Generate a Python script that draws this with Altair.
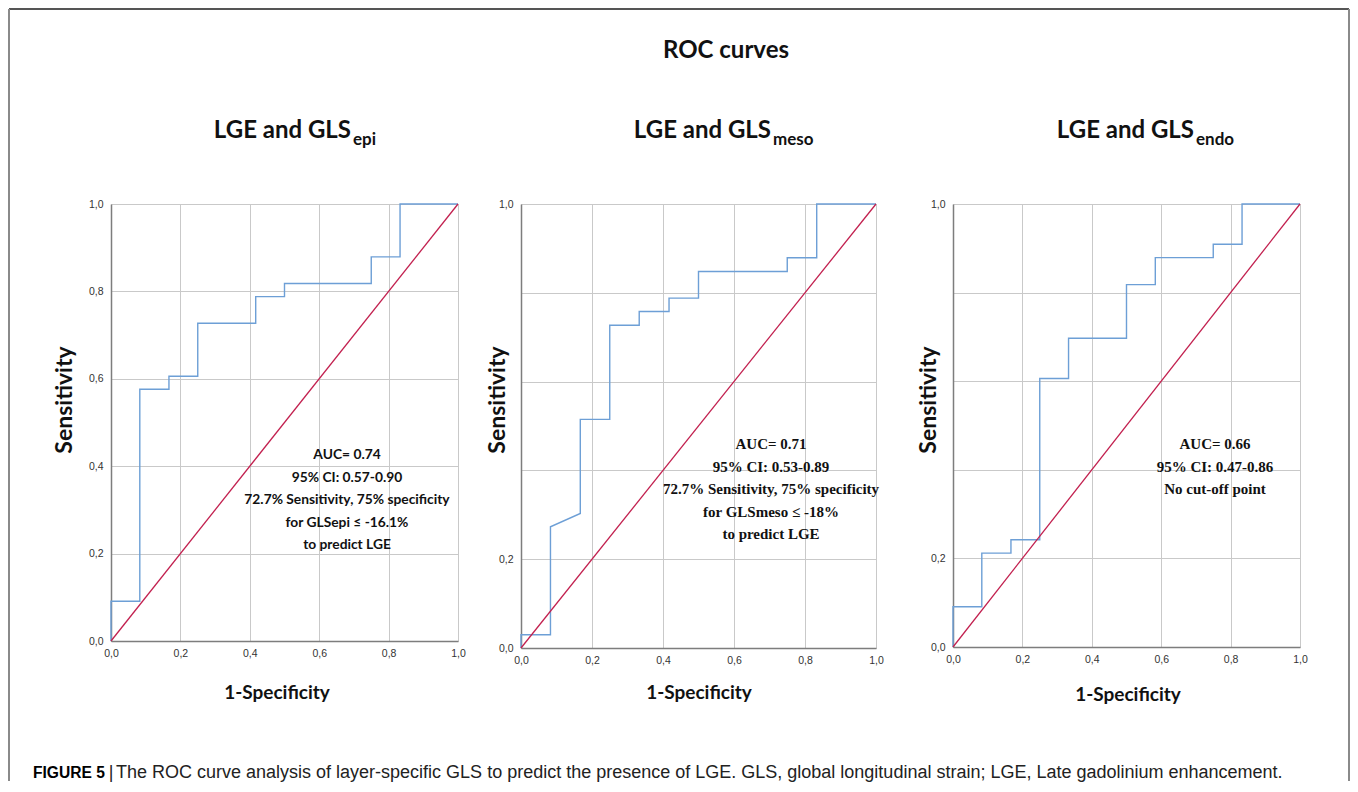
import altair as alt
import pandas as pd

# ---------------- data ----------------
# Panel 1: LGE and GLS epi
fpr_epi = [0, 0, 0.083, 0.083, 0.167, 0.167, 0.25, 0.25, 0.417, 0.417, 0.5, 0.5, 0.75, 0.75, 0.833, 0.833, 1.0]
tpr_epi = [0, 0.091, 0.091, 0.576, 0.576, 0.606, 0.606, 0.727, 0.727, 0.788, 0.788, 0.818, 0.818, 0.879, 0.879, 1.0, 1.0]
# Panel 2: LGE and GLS meso
fpr_meso = [0, 0, 0.083, 0.083, 0.167, 0.167, 0.25, 0.25, 0.333, 0.333, 0.417, 0.417, 0.5, 0.5, 0.75, 0.75, 0.833, 0.833, 1.0]
tpr_meso = [0, 0.03, 0.03, 0.273, 0.303, 0.515, 0.515, 0.727, 0.727, 0.758, 0.758, 0.788, 0.788, 0.848, 0.848, 0.879, 0.879, 1.0, 1.0]
# Panel 3: LGE and GLS endo
fpr_endo = [0, 0, 0.083, 0.083, 0.167, 0.167, 0.25, 0.25, 0.333, 0.333, 0.5, 0.5, 0.583, 0.583, 0.75, 0.75, 0.833, 0.833, 1.0]
tpr_endo = [0, 0.091, 0.091, 0.212, 0.212, 0.242, 0.242, 0.606, 0.606, 0.697, 0.697, 0.818, 0.818, 0.879, 0.879, 0.909, 0.909, 1.0, 1.0]
# reference line
diag = [0.0, 1.0]

tick_values = [0, 0.2, 0.4, 0.6, 0.8, 1.0]

main_title = "ROC curves"
panel_main = "LGE and GLS"
panel_subs = ["epi", "meso", "endo"]

notes_epi = ["AUC= 0.74", "95% CI: 0.57-0.90", "72.7% Sensitivity, 75% specificity",
             "for GLSepi \u2264 -16.1%", "to predict LGE"]
notes_meso = ["AUC= 0.71", "95% CI: 0.53-0.89", "72.7% Sensitivity, 75% specificity",
              "for GLSmeso \u2264 -18%", "to predict LGE"]
notes_endo = ["AUC= 0.66", "95% CI: 0.47-0.86", "No cut-off point"]

x_title = "1-Specificity"
y_title = "Sensitivity"

caption_bold = "FIGURE 5"
caption_bar = "|"
caption_rest = ("The ROC curve analysis of layer-specific GLS to predict the presence of LGE. "
                "GLS, global longitudinal strain; LGE, Late gadolinium enhancement.")

# ---------------- styling ----------------
BLUE = "#6d9fd6"
RED = "#c2204f"
GRID = "#c9c9c9"
DOMAIN = "#7d7d7d"
SANS_B = "Lato"
SERIF = "Liberation Serif"

one = pd.DataFrame({"a": [0]})


def txt(text, x, y, font=SANS_B, size=13, weight="bold", align="center",
        baseline="alphabetic", angle=0, color="#111111", line_height=22.5):
    kw = dict(text=text, font=font, fontSize=size, fontWeight=weight, align=align,
              baseline=baseline, color=color, lineHeight=line_height)
    if angle:
        kw["angle"] = angle
    return alt.Chart(one).mark_text(**kw).encode(x=alt.value(x), y=alt.value(y))


def label_expr(full):
    fmt = "replace(format(datum.value, '.1f'), '.', ',')"
    if full:
        return fmt
    return ("(abs(datum.value) < 0.01 || abs(datum.value - 0.2) < 0.01 || "
            "abs(datum.value - 1) < 0.01) ? " + fmt + " : ''")


def panel(fpr, tpr, w, h, sub, notes, note_font, note_size, note_xy,
          title_x, xt_xy, yt_xy, full_y_labels=True, extra=()):
    roc_df = pd.DataFrame({"fpr": fpr, "tpr": tpr, "i": list(range(len(fpr)))})
    xs = alt.Scale(domain=[0, 1], nice=False, zero=False)
    ys = alt.Scale(domain=[0, 1], nice=False, zero=False)
    xax = alt.Axis(values=tick_values, title=None, grid=True, gridColor=GRID, gridWidth=1,
                   domainColor=DOMAIN, domainWidth=1.5, ticks=False, labelPadding=7,
                   labelFont="Liberation Sans", labelFontSize=10.5, labelColor="#333333",
                   labelExpr=label_expr(True), labelFlush=False)
    yax = alt.Axis(values=tick_values, title=None, grid=True, gridColor=GRID, gridWidth=1,
                   domainColor=DOMAIN, domainWidth=1.5, ticks=False, labelPadding=8,
                   labelFont="Liberation Sans", labelFontSize=10.5, labelColor="#333333",
                   labelExpr=label_expr(full_y_labels), labelFlush=False)
    roc = alt.Chart(roc_df).mark_line(color=BLUE, strokeWidth=1.4).encode(
        x=alt.X("fpr:Q", scale=xs, axis=xax),
        y=alt.Y("tpr:Q", scale=ys, axis=yax),
        order="i:Q",
    )
    diag_df = pd.DataFrame({"fpr": diag, "tpr": diag})
    ref = alt.Chart(diag_df).mark_line(color=RED, strokeWidth=1.3).encode(
        x=alt.X("fpr:Q", scale=xs), y=alt.Y("tpr:Q", scale=ys))
    layers = [roc, ref,
              txt(panel_main, title_x, -66, size=24, align="right"),
              txt(sub, title_x + 2, -59, size=17, align="left"),
              txt(notes, note_xy[0], note_xy[1], font=note_font, size=note_size),
              txt(x_title, xt_xy[0], xt_xy[1], size=19, baseline="middle"),
              txt(y_title, yt_xy[0], yt_xy[1], size=23, baseline="middle", angle=270),
              ]
    layers += list(extra)
    return alt.layer(*layers).properties(width=w, height=h)


def hrule(x1, x2, y, color="#555555", width=2):
    return alt.Chart(one).mark_rule(color=color, strokeWidth=width).encode(
        x=alt.value(x1), x2=alt.value(x2), y=alt.value(y))


def vrule(x, y1, y2, color="#8a8a8a", width=2):
    return alt.Chart(one).mark_rule(color=color, strokeWidth=width).encode(
        x=alt.value(x), y=alt.value(y1), y2=alt.value(y2))


frame = [
    hrule(-102, 1238, -195),
    vrule(-102, -195, 577),
    vrule(1238, -195, 577),
    txt(caption_bold, -78, 574, font="Liberation Sans", size=15.6, align="left", color="#000000"),
    txt(caption_bar, 0, 574, font="Liberation Sans", size=18, weight="normal",
        align="center", color="#222222"),
    txt(caption_rest, 5, 574, font="Liberation Sans", size=18, weight="normal",
        align="left", color="#222222"),
]

p1 = panel(fpr_epi, tpr_epi, 347, 437, panel_subs[0], notes_epi, SANS_B, 13.8, (236, 255),
           240, (166, 489), (-46, 196), True, frame)
p2 = panel(fpr_meso, tpr_meso, 355, 444, panel_subs[1], notes_meso, SERIF, 15, (250, 245),
           250, (178, 489), (-23, 196), False,
           [txt(main_title, 205, -146, size=24)])
p3 = panel(fpr_endo, tpr_endo, 347, 443, panel_subs[2], notes_endo, SERIF, 15, (262, 245),
           241, (175, 491), (-24, 196), False)


def spacer(w):
    return alt.Chart(one).mark_point(opacity=0).encode(
        x=alt.value(0), y=alt.value(0)).properties(width=w, height=437)


chart = alt.hconcat(p1, spacer(63), p2, spacer(77), p3, spacing=0, bounds="flush").properties(
    padding=0, background="white"
).configure_view(stroke=None)

chart.save("out.html", embed_options={"renderer": "svg", "actions": False})
